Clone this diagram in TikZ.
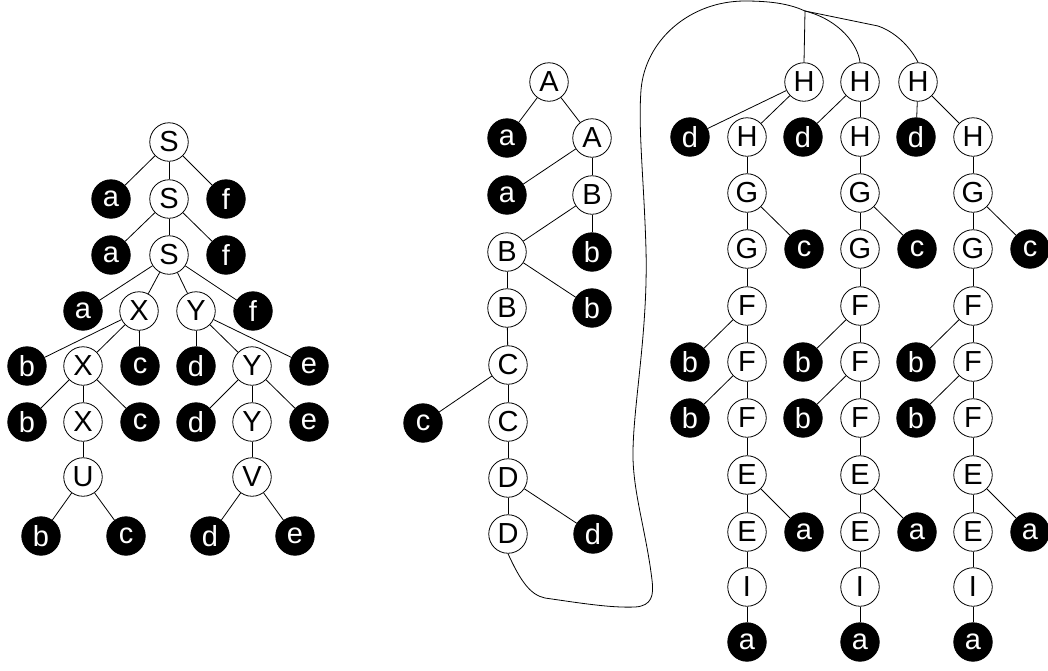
\documentclass[tikz,border=0pt]{standalone}
\usepackage{fontspec}
\setmainfont{Liberation Sans}
\newcommand{\nodefont}{\fontsize{29pt}{29pt}\selectfont}
\begin{document}
\begin{tikzpicture}[x=1pt,y=-1pt,line width=0.8pt,
  nt/.style={circle,draw=black,fill=white,minimum size=38.5pt,inner sep=0pt,font=\nodefont},
  tm/.style={circle,draw=black,fill=black,text=white,minimum size=38.5pt,inner sep=0pt,font=\nodefont}]
\useasboundingbox (0,0) rectangle (1048,670);
% ---------------- left tree ----------------
\node[nt] (S1) at (169,142) {S};
\node[tm] (a1) at (111,199) {a};
\node[nt] (S2) at (169,199) {S};
\node[tm] (f1) at (226,199) {f};
\node[tm] (a2) at (111,255) {a};
\node[nt] (S3) at (169,255) {S};
\node[tm] (f2) at (226,255) {f};
\node[tm] (a3) at (83,311) {a};
\node[nt] (X1) at (139,311) {X};
\node[nt] (Y1) at (196,311) {Y};
\node[tm] (f3) at (253,311) {f};
\node[tm] (b1) at (27,366) {b};
\node[nt] (X2) at (83,366) {X};
\node[tm] (c1) at (140,366) {c};
\node[tm] (d1) at (196,366) {d};
\node[nt] (Y2) at (252,366) {Y};
\node[tm] (e1) at (309,366) {e};
\node[tm] (b2) at (27,422) {b};
\node[nt] (X3) at (83,422) {X};
\node[tm] (c2) at (140,422) {c};
\node[tm] (d2) at (196,422) {d};
\node[nt] (Y3) at (252,422) {Y};
\node[tm] (e2) at (309,422) {e};
\node[nt] (U) at (83,477) {U};
\node[nt] (V) at (252,477) {V};
\node[tm] (b3) at (41,536) {b};
\node[tm] (c3) at (126,536) {c};
\node[tm] (d3) at (210,536) {d};
\node[tm] (e3) at (295,536) {e};
\draw (S1) -- (a1); \draw (S1) -- (S2); \draw (S1) -- (f1);
\draw (S2) -- (a2); \draw (S2) -- (S3); \draw (S2) -- (f2);
\draw (S3) -- (a3); \draw (S3) -- (X1); \draw (S3) -- (Y1); \draw (S3) -- (f3);
\draw (X1) -- (b1); \draw (X1) -- (X2); \draw (X1) -- (c1);
\draw (Y1) -- (d1); \draw (Y1) -- (Y2); \draw (Y1) -- (e1);
\draw (X2) -- (b2); \draw (X2) -- (X3); \draw (X2) -- (c2);
\draw (Y2) -- (d2); \draw (Y2) -- (Y3); \draw (Y2) -- (e2);
\draw (X3) -- (U); \draw (Y3) -- (V);
\draw (U) -- (b3); \draw (U) -- (c3);
\draw (V) -- (d3); \draw (V) -- (e3);
% ---------------- middle chain ----------------
\node[nt] (A1) at (549,82) {A};
\node[tm] (ma1) at (507,138) {a};
\node[nt] (A2) at (592,138) {A};
\node[tm] (ma2) at (507,195) {a};
\node[nt] (B1) at (592,195) {B};
\node[nt] (B2) at (507,252) {B};
\node[tm] (mb1) at (592,252) {b};
\node[nt] (B3) at (507,308) {B};
\node[tm] (mb2) at (592,308) {b};
\node[nt] (C1) at (508,365) {C};
\node[tm] (mc) at (423,423) {c};
\node[nt] (C2) at (508,422) {C};
\node[nt] (D1) at (508,478) {D};
\node[nt] (D2) at (508,534) {D};
\node[tm] (md) at (593,534) {d};
\draw (A1) -- (ma1); \draw (A1) -- (A2);
\draw (A2) -- (ma2); \draw (A2) -- (B1);
\draw (B1) -- (B2); \draw (B1) -- (mb1);
\draw (B2) -- (B3); \draw (B2) -- (mb2);
\draw (B3) -- (C1);
\draw (C1) -- (mc); \draw (C1) -- (C2);
\draw (C2) -- (D1);
\draw (D1) -- (D2); \draw (D1) -- (md);
% ---------------- right columns ----------------
\foreach \m/\h/\i in {747/804/1, 860/860/2, 973/918/3}{
  \node[nt] (Ht\i) at (\h,82) {H};
  \node[tm] (rd\i) at ({\m-57},137) {d};
  \node[nt] (Hb\i) at (\m,137) {H};
  \node[nt] (Ga\i) at (\m,193) {G};
  \node[nt] (Gb\i) at (\m,249) {G};
  \node[tm] (rc\i) at ({\m+57},249) {c};
  \node[nt] (Fa\i) at (\m,306) {F};
  \node[tm] (rba\i) at ({\m-57},362) {b};
  \node[nt] (Fb\i) at (\m,362) {F};
  \node[tm] (rbb\i) at ({\m-57},418) {b};
  \node[nt] (Fc\i) at (\m,418) {F};
  \node[nt] (Ea\i) at (\m,475) {E};
  \node[nt] (Eb\i) at (\m,532) {E};
  \node[tm] (raa\i) at ({\m+57},532) {a};
  \node[nt] (I\i) at (\m,587) {I};
  \node[tm] (rab\i) at (\m,642) {a};
  \draw (Ht\i) -- (rd\i); \draw (Ht\i) -- (Hb\i);
  \draw (Hb\i) -- (Ga\i);
  \draw (Ga\i) -- (Gb\i); \draw (Ga\i) -- (rc\i);
  \draw (Gb\i) -- (Fa\i);
  \draw (Fa\i) -- (rba\i); \draw (Fa\i) -- (Fb\i);
  \draw (Fb\i) -- (rbb\i); \draw (Fb\i) -- (Fc\i);
  \draw (Fc\i) -- (Ea\i);
  \draw (Ea\i) -- (Eb\i); \draw (Ea\i) -- (raa\i);
  \draw (Eb\i) -- (I\i);
  \draw (I\i) -- (rab\i);
}
% ---------------- long connector ----------------
\coordinate (J) at (805,11);
\draw (D2.south) .. controls (520,580) and (530,595) .. (545,598)
  .. controls (580,603) and (610,608) .. (635,607)
  .. controls (652,606) and (654,595) .. (652,580)
  .. controls (646,530) and (632,490) .. (633,450)
  .. controls (634,400) and (648,330) .. (646,250)
  .. controls (644,180) and (638,130) .. (641,90)
  .. controls (645,40) and (690,1) .. (745,1)
  .. controls (775,1) and (792,5) .. (J);
\draw (J) -- (Ht1.north);
\draw (J) .. controls (840,20) and (858,45) .. (Ht2.north);
\draw (J) -- (878,26) .. controls (898,33) and (912,50) .. (Ht3.north);
\end{tikzpicture}
\end{document}
